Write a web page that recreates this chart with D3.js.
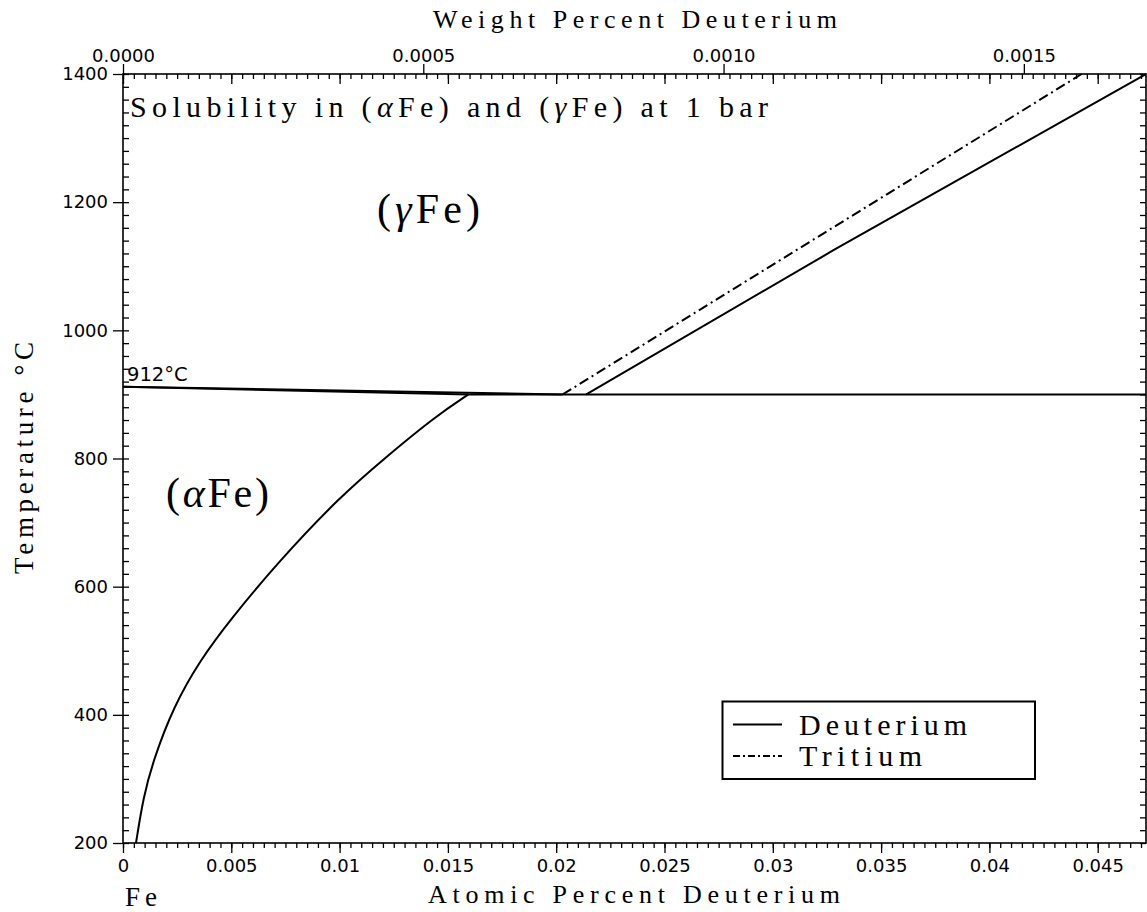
<!DOCTYPE html>
<html><head><meta charset="utf-8">
<script src="https://cdn.jsdelivr.net/npm/d3@7"></script>
<style>
html,body{margin:0;padding:0;background:#fff;}
svg{display:block;}
.tick text{font-family:"DejaVu Sans",sans-serif;font-size:18px;fill:#000;}
.tick line{stroke:#000;stroke-width:1.3;}
</style>
</head><body>
<script>
// ---------- data ----------
const atMax = 0.04723;            // atomic percent D at right edge
const tMin = 200, tMax = 1400;    // temperature range, °C
const molD = 2.0141, molFe = 55.845;

// (alpha Fe) solubility boundary
const alphaAt = [0.0006, 0.00094, 0.0014, 0.00232, 0.00355, 0.00494, 0.0071, 0.0100, 0.01217, 0.01440, 0.01595];
const alphaT  = [200, 272, 329, 412, 485, 548, 636, 740, 803, 865, 900];
// alpha/(alpha+gamma) and (alpha+gamma)/gamma boundaries from 912 °C
const agAlphaAt = [0, 0.01595];
const agAlphaT  = [912, 900];
const agGammaAt = [0, 0.0203];
const agGammaT  = [912, 900];
// 900 °C horizontal
const isoAt = [0.01595, atMax];
const isoT  = [900, 900];
// (gamma Fe) solubility, deuterium
const deutAt = [0.02138, 0.0328, 0.04723];
const deutT  = [900, 1125, 1400];
// (gamma Fe) solubility, tritium
const tritAt = [0.0203, 0.04426];
const tritT  = [900, 1400];

// tick values / labels
const atMajor = [0, 0.005, 0.01, 0.015, 0.02, 0.025, 0.03, 0.035, 0.04, 0.045];
const atLabels = ["0", "0.005", "0.01", "0.015", "0.02", "0.025", "0.03", "0.035", "0.04", "0.045"];
const wtMajor = [0, 0.0005, 0.0010, 0.0015];
const wtLabels = ["0.0000", "0.0005", "0.0010", "0.0015"];
const tMajor = [200, 400, 600, 800, 1000, 1200, 1400];
const tLabels = ["200", "400", "600", "800", "1000", "1200", "1400"];

// ---------- layout ----------
const W = 1147, H = 912;
const X0 = 123, X1 = 1146, Y0 = 74, Y1 = 843;

const svg = d3.select("body").append("svg").attr("width", W).attr("height", H);

const x = d3.scaleLinear().domain([0, atMax]).range([X0, X1]);
const xw = d3.scaleLinear().domain([0, atMax * molD / molFe]).range([X0, X1]);
const y = d3.scaleLinear().domain([tMin, tMax]).range([Y1, Y0]);

const atMinor = d3.range(0, atMax, 0.0005);
const tMinor = d3.range(tMin, tMax + 1, 20);

function clean(g){ g.select(".domain").remove(); }

// bottom axis
svg.append("g").attr("transform", `translate(0,${Y1})`)
  .call(d3.axisBottom(x).tickValues(atMinor).tickSize(5).tickFormat("")).call(clean);
svg.append("g").attr("transform", `translate(0,${Y1})`)
  .call(d3.axisBottom(x).tickValues(atMajor).tickSize(10).tickPadding(6).tickFormat((d,i)=>atLabels[i])).call(clean);
// top axis: atomic ticks inside
svg.append("g").attr("transform", `translate(0,${Y0})`)
  .call(d3.axisTop(x).tickValues(atMinor).tickSize(-5).tickFormat("")).call(clean);
svg.append("g").attr("transform", `translate(0,${Y0})`)
  .call(d3.axisTop(x).tickValues(atMajor).tickSize(-10).tickFormat("")).call(clean);
// top axis: weight percent outside
svg.append("g").attr("transform", `translate(0,${Y0})`)
  .call(d3.axisTop(xw).tickValues(wtMajor).tickSize(10).tickPadding(2).tickFormat((d,i)=>wtLabels[i])).call(clean);
// left axis
svg.append("g").attr("transform", `translate(${X0},0)`)
  .call(d3.axisLeft(y).tickValues(tMinor).tickSize(-6).tickFormat("")).call(clean);
svg.append("g").attr("transform", `translate(${X0},0)`)
  .call(d3.axisLeft(y).tickValues(tMajor).tickSize(10).tickPadding(5).tickFormat((d,i)=>tLabels[i])).call(clean);
// right axis
svg.append("g").attr("transform", `translate(${X1},0)`)
  .call(d3.axisRight(y).tickValues(tMinor).tickSize(-6).tickFormat("")).call(clean);

// frame
svg.append("rect").attr("x", X0).attr("y", Y0).attr("width", X1 - X0).attr("height", Y1 - Y0)
  .attr("fill", "none").attr("stroke", "#000").attr("stroke-width", 1.6);

// ---------- curves ----------
const lineGen = d3.line().x(d => x(d[0])).y(d => y(d[1]));
function draw(ats, ts, dash, curve){
  const pts = ats.map((a,i)=>[a, ts[i]]);
  svg.append("path").datum(pts)
    .attr("d", lineGen.curve(curve || d3.curveLinear))
    .attr("fill", "none").attr("stroke", "#000").attr("stroke-width", 2)
    .attr("stroke-dasharray", dash || null);
}
draw(alphaAt, alphaT, null, d3.curveBasis);
draw(agAlphaAt, agAlphaT);
draw(agGammaAt, agGammaT);
draw(isoAt, isoT);
draw(deutAt, deutT, null, d3.curveMonotoneY);
draw(tritAt, tritT, "10,4,2,4");

// ---------- text ----------
const serif = '"Liberation Serif", "Times New Roman", serif';

function sText(str, xx, yy, size, len, rot){
  const t = svg.append("text").text(str)
    .attr("font-family", serif).attr("font-size", size).attr("fill", "#000")
    .attr("textLength", len).attr("lengthAdjust", "spacing");
  if (rot) t.attr("transform", `translate(${xx},${yy}) rotate(-90)`).attr("text-anchor","middle");
  else t.attr("x", xx).attr("y", yy);
  return t;
}
sText("Weight Percent Deuterium", 433, 28, 26, 404);
sText("Atomic Percent Deuterium", 428, 903, 26, 412);
sText("Temperature °C", 33, 458, 27, 232, true);
sText("Fe", 125, 906, 27, 32);

// subtitle with greek
const sub = svg.append("text").attr("x", 130).attr("y", 117)
  .attr("font-family", serif).attr("font-size", 30).attr("fill", "#000")
  .attr("textLength", 638).attr("lengthAdjust", "spacing");
sub.append("tspan").text("Solubility in (");
sub.append("tspan").text("α").attr("font-style", "italic");
sub.append("tspan").text("Fe) and (");
sub.append("tspan").text("γ").attr("font-style", "italic");
sub.append("tspan").text("Fe) at 1 bar");

// phase labels
function phase(greek, xx, yy){
  const t = svg.append("text").attr("x", xx).attr("y", yy)
    .attr("font-family", serif).attr("font-size", 42).attr("fill", "#000")
    .attr("textLength", 103).attr("lengthAdjust", "spacing");
  t.append("tspan").text("(");
  t.append("tspan").text(greek).attr("font-style", "italic");
  t.append("tspan").text("Fe)");
}
phase("γ", 377, 223);
phase("α", 166, 507);

// 912 label
svg.append("text").attr("x", 127).attr("y", 381).text("912°C")
  .attr("font-family", '"DejaVu Sans", sans-serif').attr("font-size", 19.5).attr("fill", "#000");

// ---------- legend ----------
const lg = svg.append("g");
lg.append("rect").attr("x", 722.5).attr("y", 701.5).attr("width", 312.5).attr("height", 77.5)
  .attr("fill", "#fff").attr("stroke", "#000").attr("stroke-width", 2);
const legendItems = [
  {label: "Deuterium", dash: null, y: 724.5, len: 168},
  {label: "Tritium", dash: "7,3,2,3", y: 756, len: 123}
];
legendItems.forEach(it => {
  lg.append("line").attr("x1", 733).attr("x2", 782).attr("y1", it.y).attr("y2", it.y)
    .attr("stroke", "#000").attr("stroke-width", 2).attr("stroke-dasharray", it.dash);
  lg.append("text").attr("x", 799).attr("y", it.y + 10).text(it.label)
    .attr("font-family", serif).attr("font-size", 30).attr("fill", "#000")
    .attr("textLength", it.len).attr("lengthAdjust", "spacing");
});
</script>
</body></html>
